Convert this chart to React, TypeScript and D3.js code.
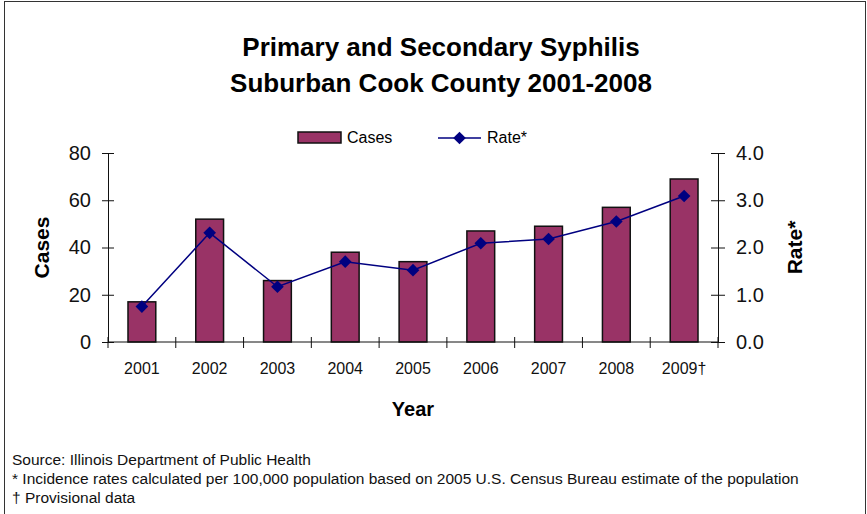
import { useEffect, useRef } from 'react'
import * as d3 from 'd3'

const years = ['2001', '2002', '2003', '2004', '2005', '2006', '2007', '2008', '2009†']
const cases = [17, 52, 26, 38, 34, 47, 49, 57, 69]
const rates = [0.75, 2.31, 1.17, 1.7, 1.52, 2.09, 2.18, 2.55, 3.09]
const caseTicks = [0, 20, 40, 60, 80]
const rateTicks = [0, 1, 2, 3, 4]
const footnotes = [
	'Source: Illinois Department of Public Health',
	'* Incidence rates calculated per 100,000 population based on 2005 U.S. Census Bureau estimate of the population',
	'† Provisional data',
]

const App = () => {
	const svgRef = useRef(null)

	useEffect(() => {
		const width = 867
		const height = 514
		const margin = { top: 153, right: 149, bottom: 172, left: 108 }
		const font = '"Liberation Sans", Arial, sans-serif'

		const svg = d3.select(svgRef.current)
		svg.selectAll('*').remove()
		svg.attr('width', width).attr('height', height)

		// frame
		svg
			.append('rect')
			.attr('x', 4.5)
			.attr('y', 1.5)
			.attr('width', width - 6)
			.attr('height', height + 10)
			.attr('fill', 'white')
			.attr('stroke', '#333')

		const x = d3
			.scaleBand()
			.domain(years)
			.range([margin.left, width - margin.right])
		const yCases = d3
			.scaleLinear()
			.domain([0, 80])
			.range([height - margin.bottom, margin.top])
		const yRate = d3
			.scaleLinear()
			.domain([0, 4])
			.range([height - margin.bottom, margin.top])

		// title
		const title = svg
			.append('text')
			.attr('text-anchor', 'middle')
			.style('font-family', font)
			.style('font-weight', 'bold')
			.style('font-size', '26px')
		title.append('tspan').attr('x', 441).attr('y', 56).text('Primary and Secondary Syphilis')
		title.append('tspan').attr('x', 441).attr('y', 92).text('Suburban Cook County 2001-2008')

		// bars
		const barW = x.bandwidth() * 0.41
		svg
			.append('g')
			.selectAll('rect')
			.data(cases)
			.join('rect')
			.attr('x', (d, i) => x(years[i]) + (x.bandwidth() - barW) / 2)
			.attr('y', (d) => yCases(d))
			.attr('width', barW)
			.attr('height', (d) => yCases(0) - yCases(d))
			.attr('fill', '#993366')
			.attr('stroke', '#111')
			.attr('stroke-width', 1.5)

		// axes
		const styleAxis = (g, size) => {
			g.select('.domain').attr('stroke', '#111')
			g.selectAll('.tick line').attr('stroke', '#111')
			g.selectAll('text').style('font-family', font).style('font-size', size).attr('fill', '#111')
		}

		svg
			.append('g')
			.attr('transform', `translate(${margin.left},0)`)
			.call(d3.axisLeft(yCases).tickValues(caseTicks).tickSizeInner(6).tickSizeOuter(0).tickPadding(11))
			.call((g) => g.selectAll('.tick line').attr('x2', 6).attr('x1', -6))
			.call((g) => styleAxis(g, '20px'))

		svg
			.append('g')
			.attr('transform', `translate(${width - margin.right},0)`)
			.call(
				d3
					.axisRight(yRate)
					.tickValues(rateTicks)
					.tickFormat(d3.format('.1f'))
					.tickSizeInner(7)
					.tickSizeOuter(0)
					.tickPadding(11)
			)
			.call((g) => g.selectAll('.tick line').attr('x1', -7).attr('x2', 7))
			.call((g) => styleAxis(g, '20px'))

		const xAxis = svg
			.append('g')
			.attr('transform', `translate(0,${height - margin.bottom})`)
			.call(d3.axisBottom(x).tickSize(0).tickPadding(21))
			.call((g) => styleAxis(g, '16px'))
		xAxis.select('.domain').attr('d', `M${margin.left},0H${width - margin.right}`)
		xAxis
			.selectAll('line.sep')
			.data(d3.range(years.length + 1))
			.join('line')
			.attr('class', 'sep')
			.attr('x1', (i) => margin.left + i * x.step())
			.attr('x2', (i) => margin.left + i * x.step())
			.attr('y1', -5)
			.attr('y2', 6)
			.attr('stroke', '#111')

		// rate line
		const line = d3
			.line()
			.x((d, i) => x(years[i]) + x.bandwidth() / 2)
			.y((d) => yRate(d))
		svg.append('path').datum(rates).attr('d', line).attr('fill', 'none').attr('stroke', '#000080').attr('stroke-width', 1.5)

		const diamond = d3.symbol().type(d3.symbolSquare).size(80)
		svg
			.append('g')
			.selectAll('path')
			.data(rates)
			.join('path')
			.attr('d', diamond)
			.attr('transform', (d, i) => `translate(${x(years[i]) + x.bandwidth() / 2},${yRate(d)}) rotate(45)`)
			.attr('fill', '#000080')

		// axis titles
		svg
			.append('text')
			.attr('transform', `translate(49,${(yCases(0) + yCases(80)) / 2}) rotate(-90)`)
			.attr('text-anchor', 'middle')
			.style('font-family', font)
			.style('font-weight', 'bold')
			.style('font-size', '21px')
			.text('Cases')
		svg
			.append('text')
			.attr('transform', `translate(802,${(yRate(0) + yRate(4)) / 2}) rotate(-90)`)
			.attr('text-anchor', 'middle')
			.style('font-family', font)
			.style('font-weight', 'bold')
			.style('font-size', '21px')
			.text('Rate*')
		svg
			.append('text')
			.attr('x', 413)
			.attr('y', 416)
			.attr('text-anchor', 'middle')
			.style('font-family', font)
			.style('font-weight', 'bold')
			.style('font-size', '20px')
			.text('Year')

		// legend
		const legend = svg.append('g').style('font-family', font).style('font-size', '16px')
		legend
			.append('rect')
			.attr('x', 298)
			.attr('y', 132)
			.attr('width', 43)
			.attr('height', 11)
			.attr('fill', '#993366')
			.attr('stroke', '#111')
			.attr('stroke-width', 1.5)
		legend.append('text').attr('x', 347).attr('y', 143).text('Cases')
		legend
			.append('line')
			.attr('x1', 438)
			.attr('x2', 481)
			.attr('y1', 138)
			.attr('y2', 138)
			.attr('stroke', '#000080')
			.attr('stroke-width', 1.5)
		legend.append('path').attr('d', diamond).attr('transform', 'translate(459.5,138) rotate(45)').attr('fill', '#000080')
		legend.append('text').attr('x', 487).attr('y', 143).text('Rate*')

		// footnotes
		svg
			.append('g')
			.selectAll('text')
			.data(footnotes)
			.join('text')
			.attr('x', 12)
			.attr('y', (d, i) => 465 + i * 19)
			.style('font-family', font)
			.style('font-size', '15.5px')
			.attr('fill', '#111')
			.text((d) => d)
	}, [])

	return <svg ref={svgRef} style={{ position: 'absolute', left: 0, top: 0 }}></svg>
}

export default App
